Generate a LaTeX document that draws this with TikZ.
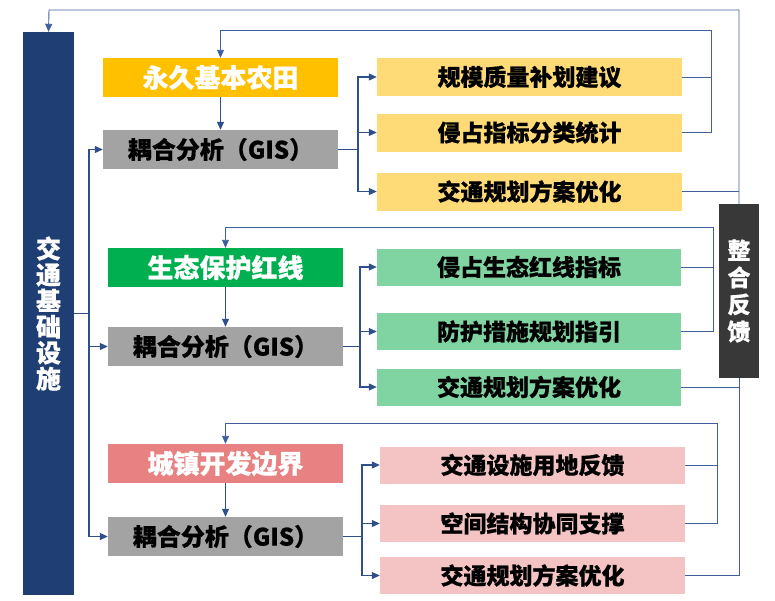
\documentclass[tikz,border=0pt]{standalone}
\usepackage{fontspec}
\newfontfamily\cjk{Noto Sans CJK SC}[BoldFeatures={FakeBold=0.6}]
\usetikzlibrary{arrows.meta,calc}
\definecolor{navy}{HTML}{1F3F74}
\definecolor{wire}{HTML}{2F4E8C}
\definecolor{backwire}{HTML}{3F5F9E}
\definecolor{darkbox}{HTML}{383838}
\definecolor{gisgray}{HTML}{A3A3A3}
\definecolor{farmhd}{HTML}{FFC000}
\definecolor{farmout}{HTML}{FFDB78}
\definecolor{ecohd}{HTML}{00B050}
\definecolor{ecoout}{HTML}{80D4A2}
\definecolor{townhd}{HTML}{E88282}
\definecolor{townout}{HTML}{F4C3C3}

\begin{document}
\begin{tikzpicture}[x=1pt,y=-1pt,
    box/.style={inner sep=0pt,minimum height=39pt,minimum width=235pt,
      font=\cjk\bfseries\fontsize{26}{28}\selectfont},
    hd/.style={box,text=white},
    gisbox/.style={box,fill=gisgray,text=black,font=\cjk\bfseries\fontsize{24}{26}\selectfont},
    outbox/.style={box,minimum width=305pt,minimum height=37pt,text=black,
      font=\cjk\bfseries\fontsize{23}{25}\selectfont},
    wireline/.style={draw=wire,line width=1.1pt},
    backline/.style={draw=backwire,line width=0.9pt},
    arr/.style={wireline,-{Triangle[length=8pt,width=7pt]}},
    backarr/.style={backline,-{Triangle[length=8pt,width=7pt]}}]
\useasboundingbox (0,0) rectangle (775,600);

\node[fill=navy,text=white,inner sep=0pt,minimum width=51pt,minimum height=563pt,
  align=center,font=\cjk\bfseries\fontsize{25}{26}\selectfont]
  (infra) at (48.5,313.5) {交\\通\\基\\础\\设\\施};
\node[fill=darkbox,text=white,inner sep=0pt,minimum width=40pt,minimum height=174pt,
  align=center,font=\cjk\bfseries\fontsize{23}{27}\selectfont]
  (feedback) at (739,291) {整\\合\\反\\馈};

\node[hd,fill=farmhd] (farm) at (220.5,77.5) {永久基本农田};
\node[gisbox] (farmgis) at (220.5,149.5) {耦合分析（GIS）};
\node[outbox,fill=farmout,minimum height=38pt] (farm1) at (529.5,77) {规模质量补划建议};
\node[outbox,fill=farmout,minimum height=38pt] (farm2) at (529.5,132.5) {侵占指标分类统计};
\node[outbox,fill=farmout,minimum height=38pt] (farm3) at (529.5,191.5) {交通规划方案优化};

\node[hd,fill=ecohd] (eco) at (225.5,267.5) {生态保护红线};
\node[gisbox] (ecogis) at (225.5,346.5) {耦合分析（GIS）};
\node[outbox,fill=ecoout,minimum width=304pt] (eco1) at (529,267) {侵占生态红线指标};
\node[outbox,fill=ecoout,minimum width=304pt] (eco2) at (529,331.5) {防护措施规划指引};
\node[outbox,fill=ecoout,minimum width=304pt] (eco3) at (529,387) {交通规划方案优化};

\node[hd,fill=townhd] (town) at (225.5,463.5) {城镇开发边界};
\node[gisbox] (towngis) at (225.5,536.5) {耦合分析（GIS）};
\node[outbox,fill=townout] (town1) at (532.5,465) {交通设施用地反馈};
\node[outbox,fill=townout] (town2) at (532.5,523.5) {空间结构协同支撑};
\node[outbox,fill=townout] (town3) at (532.5,575.5) {交通规划方案优化};

\coordinate (infrafork) at (89,313.5);
\coordinate (farmfork) at (358,149.5);
\coordinate (ecofork) at (360,346.5);
\coordinate (townfork) at (362,536.5);
\coordinate (farmback) at (711,30);
\coordinate (ecoback) at (713,227);
\coordinate (townback) at (717,423);
\coordinate (topback) at (49,10);

\draw[wireline] (infra.east) -- (infrafork);
\foreach \g in {farmgis,ecogis,towngis}
  \draw[arr] (infrafork) |- (\g.west);

\draw[arr] (farm) -- (farmgis);
\draw[arr] (eco) -- (ecogis);
\draw[arr] (town) -- (towngis);

\draw[wireline] (farmgis.east) -- (farmfork);
\draw[wireline] (ecogis.east) -- (ecofork);
\draw[wireline] (towngis.east) -- (townfork);
\foreach \o in {farm1,farm2,farm3}
  \draw[arr] (farmfork) |- (\o.west);
\foreach \o in {eco1,eco2,eco3}
  \draw[arr] (ecofork) |- (\o.west);
\foreach \o in {town1,town2,town3}
  \draw[arr] (townfork) |- (\o.west);

\draw[backarr] (farm2.east) -| (farmback) -| (farm.north);
\draw[backline] (farm1.east) -- (farm1.east -| farmback);
\draw[backarr] (eco2.east) -| (ecoback) -| (eco.north);
\draw[backline] (eco1.east) -- (eco1.east -| ecoback);
\draw[backarr] (town2.east) -| (townback) -| (town.north);
\draw[backline] (town1.east) -- (town1.east -| townback);

\draw[backarr] (feedback.north) |- (topback) -- (infra.north);
\draw[backline] (farm3.east) -- (farm3.east -| feedback.north);
\draw[backline] (feedback.south) |- (town3.east);
\draw[backline] (eco3.east) -- (eco3.east -| feedback.south);
\end{tikzpicture}
\end{document}
